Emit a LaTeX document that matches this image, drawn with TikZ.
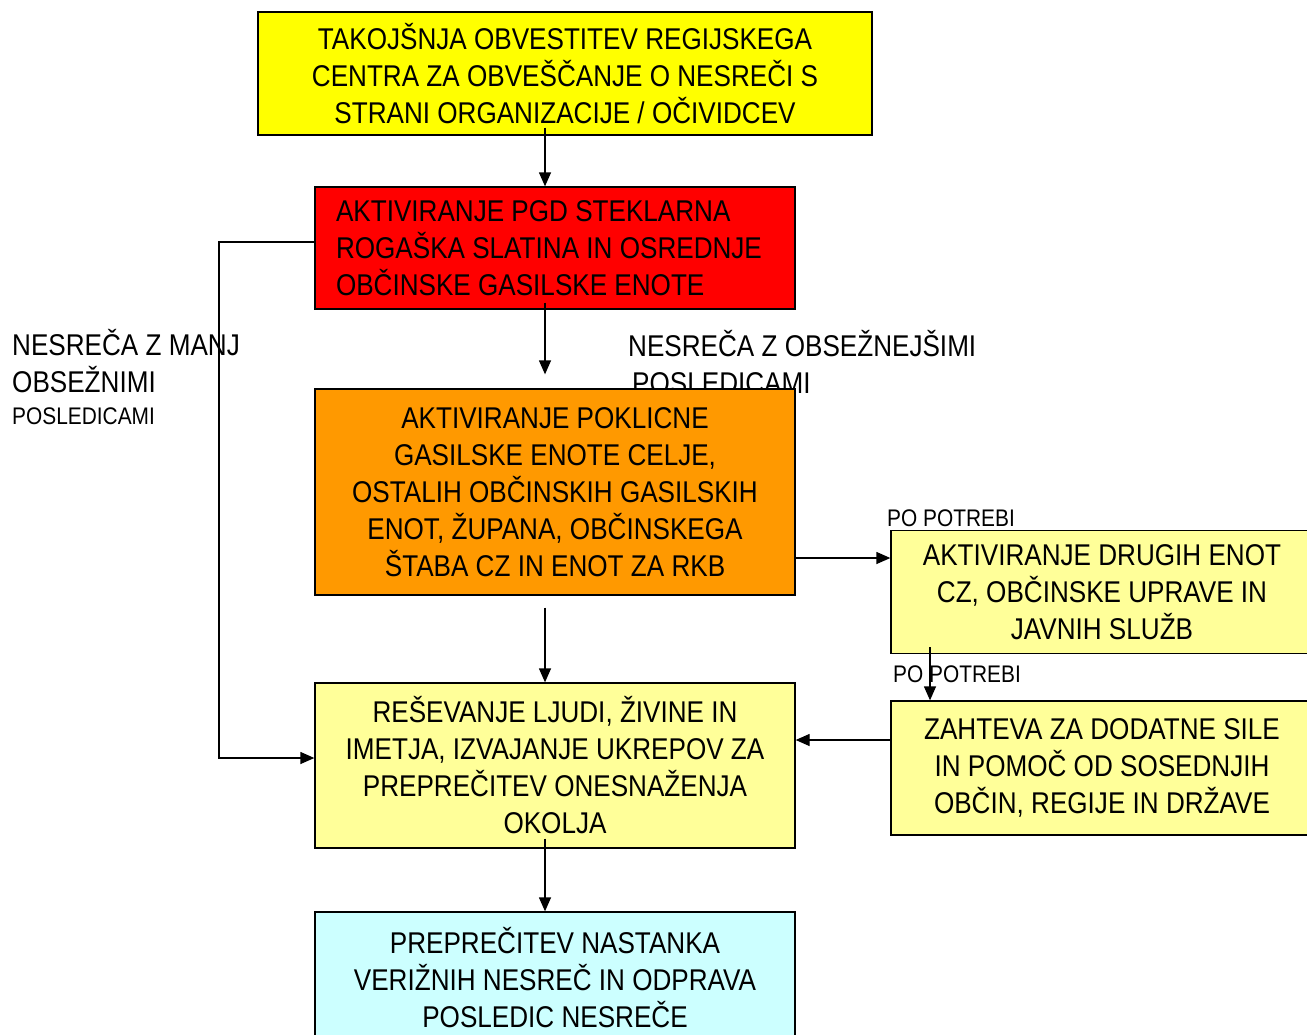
\documentclass[tikz,border=0pt]{standalone}
\usepackage{fontspec}
\setmainfont[FakeStretch=0.87]{Liberation Sans}
\usetikzlibrary{arrows.meta, positioning}
\definecolor{alertyellow}{HTML}{FFFF00}
\definecolor{firered}{HTML}{FF0000}
\definecolor{proorange}{HTML}{FF9900}
\definecolor{paleyellow}{HTML}{FFFF99}
\definecolor{palecyan}{HTML}{CCFFFF}
\newcommand{\boxfont}{\fontsize{30}{37}\selectfont}
\newcommand{\notefont}{\fontsize{24}{29}\selectfont}

\begin{document}
\begin{tikzpicture}[x=1pt, y=-1pt, >={Triangle[length=14pt,width=12pt]},
  flowbox/.style={draw, line width=1.3pt, align=center, font=\boxfont, inner sep=0pt},
  notetext/.style={font=\boxfont, align=left, inner sep=0pt, anchor=base west},
  smallnote/.style={font=\notefont, inner sep=0pt, anchor=base west},
  link/.style={->, line width=1.3pt}]
\useasboundingbox (0,0) rectangle (1307,1034);
\node[notetext] (lessnote) at (12,424) {NESREČA Z MANJ\\OBSEŽNIMI\\[-5pt]{\notefont POSLEDICAMI}};
\node[notetext] (morenote) at (628,393) {NESREČA Z OBSEŽNEJŠIMI\\\hspace{4pt}POSLEDICAMI};
\node[smallnote] (need1) at (887,526) {PO POTREBI};
\node[smallnote] (need2) at (893,682) {PO POTREBI};
\node[flowbox, fill=alertyellow, minimum width=614pt, minimum height=123pt] (notify) at (565,73.5)
  {TAKOJŠNJA OBVESTITEV REGIJSKEGA\\CENTRA ZA OBVEŠČANJE O NESREČI S\\STRANI ORGANIZACIJE / OČIVIDCEV};
\node[flowbox, fill=firered, align=flush left, text width=438pt, minimum width=480pt, minimum height=122pt] (pgd) at (555,248)
  {AKTIVIRANJE PGD STEKLARNA\\ROGAŠKA SLATINA IN OSREDNJE\\OBČINSKE GASILSKE ENOTE};
\node[flowbox, fill=proorange, minimum width=480pt, minimum height=206pt] (pro) at (555,492)
  {AKTIVIRANJE POKLICNE\\GASILSKE ENOTE CELJE,\\OSTALIH OBČINSKIH GASILSKIH\\ENOT, ŽUPANA, OBČINSKEGA\\ŠTABA CZ IN ENOT ZA RKB};
\node[flowbox, fill=paleyellow, minimum width=422pt, minimum height=123pt] (others) at (1102,592)
  {AKTIVIRANJE DRUGIH ENOT\\CZ, OBČINSKE UPRAVE IN\\JAVNIH SLUŽB};
\node[flowbox, fill=paleyellow, minimum width=422pt, minimum height=134pt] (extra) at (1102,768)
  {ZAHTEVA ZA DODATNE SILE\\IN POMOČ OD SOSEDNJIH\\OBČIN, REGIJE IN DRŽAVE};
\node[flowbox, fill=paleyellow, minimum width=480pt, minimum height=165pt] (rescue) at (555,765.5)
  {REŠEVANJE LJUDI, ŽIVINE IN\\IMETJA, IZVAJANJE UKREPOV ZA\\PREPREČITEV ONESNAŽENJA\\OKOLJA};
\node[flowbox, fill=palecyan, minimum width=480pt, minimum height=132pt] (final) at (555,978)
  {PREPREČITEV NASTANKA\\VERIŽNIH NESREČ IN ODPRAVA\\POSLEDIC NESREČE};
% main column
\coordinate (spine) at (545,0);
\draw[link, shorten <=-8pt] (notify.south -| spine) -- (pgd.north -| spine);
\draw[link, shorten <=-7pt, shorten >=14pt] (pgd.south -| spine) -- (pro.north -| spine);
\draw[link, shorten <=12pt] (pro.south -| spine) -- (rescue.north -| spine);
\draw[link, shorten <=-10pt] (rescue.south -| spine) -- (final.north -| spine);
% smaller accidents bypass
\coordinate (leftbus) at (219,0);
\draw[link] ([yshift=6pt]pgd.west) -- ([yshift=6pt]pgd.west -| leftbus) |- ([yshift=7.5pt]rescue.west);
% side branch
\coordinate (ohook) at ([yshift=-66pt]pro.east);
\draw[link] (ohook) -- (ohook -| others.west);
\coordinate (rdrop) at (930,0);
\draw[link, shorten <=-7pt] (others.south -| rdrop) -- (extra.north -| rdrop);
\coordinate (zhook) at ([yshift=28pt]extra.west);
\draw[link] (zhook) -- (zhook -| rescue.east);
\end{tikzpicture}
\end{document}
